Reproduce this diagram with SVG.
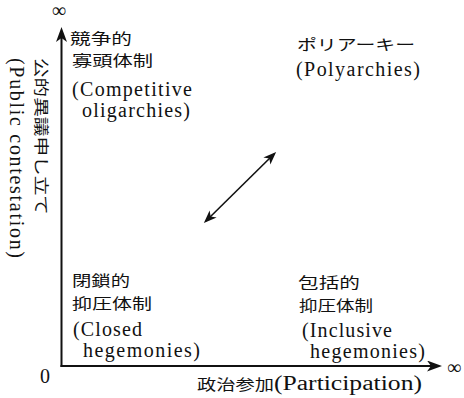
<svg xmlns="http://www.w3.org/2000/svg" width="464" height="398" viewBox="0 0 464 398">
<style>
.lat{font-family:"Liberation Serif","Noto Sans CJK JP",serif;font-size:20px;fill:#111}
.jp{font-family:"Noto Sans CJK JP","Noto Sans CJK SC",sans-serif;font-size:15px;fill:#111}
.ax{stroke:#111;stroke-width:2;fill:none}
.dbl{stroke:#111;stroke-width:1.6;fill:none}
</style>
<defs>
<marker id="axhead" markerUnits="userSpaceOnUse" markerWidth="16" markerHeight="12" refX="11" refY="5.5" orient="auto">
<path d="M0,0 L15,5.5 L0,11 L4,5.5 z" fill="#111"/>
</marker>
<marker id="dhead" markerUnits="userSpaceOnUse" markerWidth="14" markerHeight="12" refX="10" refY="5" orient="auto-start-reverse">
<path d="M0,0 L13,5 L0,10 L3.5,5 z" fill="#111"/>
</marker>
</defs>
<g id="axes">
<line class="ax" x1="61.5" y1="367" x2="61.5" y2="31" marker-end="url(#axhead)"/>
<line class="ax" x1="60.5" y1="366" x2="438" y2="366" marker-end="url(#axhead)"/>
<text class="lat" x="59" y="17" text-anchor="middle" font-size="24">∞</text>
<text class="lat" x="447" y="374" font-size="24">∞</text>
<text class="lat" x="40" y="383" font-size="19">0</text>
<text class="jp" transform="translate(36,58) rotate(90)" x="0" y="0" textLength="157" lengthAdjust="spacingAndGlyphs">公的異議申し立て</text>
<text class="lat" transform="translate(10,58) rotate(90)" x="0" y="0" textLength="200">(Public contestation)</text>
<text class="lat" x="197" y="390" textLength="225" lengthAdjust="spacingAndGlyphs"><tspan class="jp" font-size="17">政治参加</tspan>(Participation)</text>
</g>
<g id="connectors">
<line class="dbl" x1="206" y1="221" x2="274" y2="154" marker-start="url(#dhead)" marker-end="url(#dhead)"/>
</g>
<g id="competitive-oligarchies">
<text class="jp" x="70" y="44" textLength="62" lengthAdjust="spacingAndGlyphs">競争的</text>
<text class="jp" x="72" y="66" textLength="81" lengthAdjust="spacingAndGlyphs">寡頭体制</text>
<text class="lat" x="72" y="96" textLength="120">(Competitive</text>
<text class="lat" x="82" y="117" textLength="108">oligarchies)</text>
</g>
<g id="polyarchies">
<text class="jp" x="297" y="50" textLength="118" lengthAdjust="spacingAndGlyphs">ポリアーキー</text>
<text class="lat" x="296" y="76" textLength="124">(Polyarchies)</text>
</g>
<g id="closed-hegemonies">
<text class="jp" x="72" y="286" textLength="58" lengthAdjust="spacingAndGlyphs">閉鎖的</text>
<text class="jp" x="72" y="309" textLength="80" lengthAdjust="spacingAndGlyphs">抑圧体制</text>
<text class="lat" x="73" y="336" textLength="69">(Closed</text>
<text class="lat" x="83" y="357" textLength="117">hegemonies)</text>
</g>
<g id="inclusive-hegemonies">
<text class="jp" x="298" y="288" textLength="62" lengthAdjust="spacingAndGlyphs">包括的</text>
<text class="jp" x="299" y="311" textLength="74" lengthAdjust="spacingAndGlyphs">抑圧体制</text>
<text class="lat" x="302" y="337" textLength="90">(Inclusive</text>
<text class="lat" x="310" y="358" textLength="115">hegemonies)</text>
</g>
</svg>
